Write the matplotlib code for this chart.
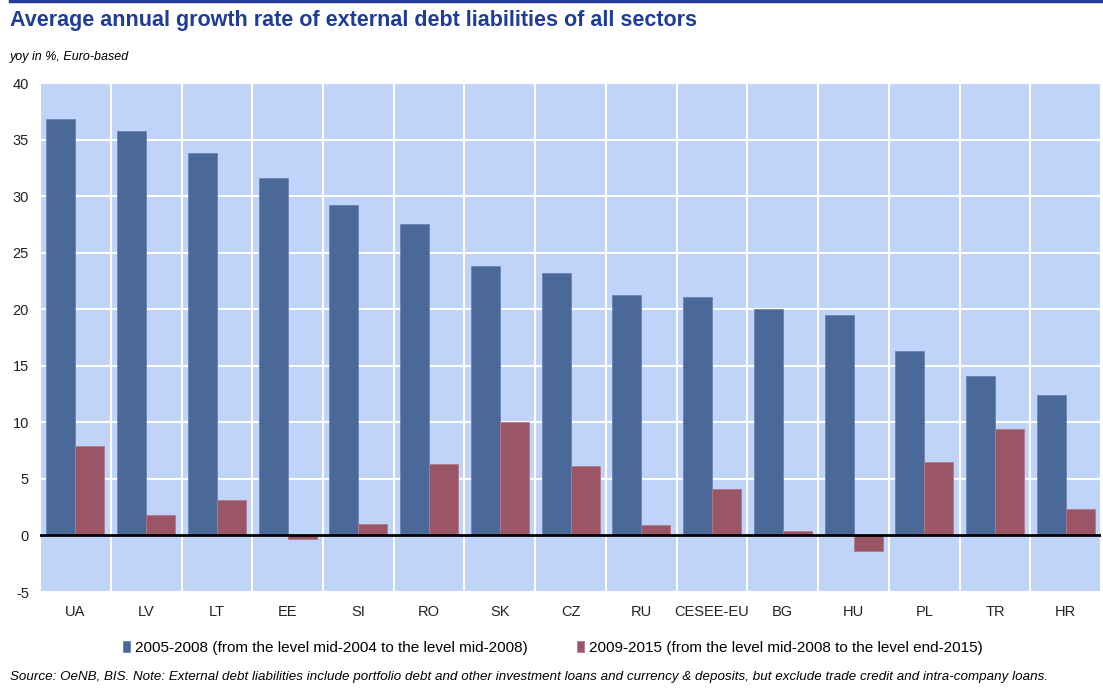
import matplotlib.pyplot as plt
import numpy as np
from matplotlib.lines import Line2D

plt.rcParams['font.family'] = ['Liberation Sans', 'DejaVu Sans']
plt.rcParams['axes.unicode_minus'] = False

countries = ['UA', 'LV', 'LT', 'EE', 'SI', 'RO', 'SK', 'CZ', 'RU',
             'CESEE-EU', 'BG', 'HU', 'PL', 'TR', 'HR']
growth_2005_2008 = [36.8, 35.8, 33.8, 31.6, 29.2, 27.5, 23.8, 23.2, 21.3,
                    21.1, 20.0, 19.5, 16.3, 14.1, 12.4]
growth_2009_2015 = [7.9, 1.8, 3.1, -0.3, 1.0, 6.3, 10.0, 6.1, 0.9,
                    4.1, 0.4, -1.4, 6.5, 9.4, 2.3]
series_labels = ['2005-2008 (from the level mid-2004 to the level mid-2008)',
                 '2009-2015 (from the level mid-2008 to the level end-2015)']

blue = '#4A6898'
red = '#9A5566'
title_col = '#1F3C96'

fig = plt.figure(figsize=(11.03, 6.92), dpi=100)
ax = fig.add_axes([0.0363, 0.1445, 0.962, 0.7355])
ax.set_facecolor('#C0D3F8')

x = np.arange(len(countries))
w = 0.41
b1 = ax.bar(x - w / 2, growth_2005_2008, w, color=blue, edgecolor='#6A84B0',
            linewidth=0.6, label=series_labels[0], zorder=3)
b2 = ax.bar(x + w / 2, growth_2009_2015, w, color=red, edgecolor='#B07A88',
            linewidth=0.6, label=series_labels[1], zorder=3)

ax.set_xlim(-0.5, len(countries) - 0.5)
ax.set_ylim(-5, 40)
ax.set_yticks(range(-5, 41, 5))
ax.set_xticks(x)
ax.set_xticklabels(countries)
ax.set_xticks(np.arange(-0.5, len(countries)), minor=True)
ax.grid(True, which='major', axis='y', color='white', linewidth=1.5, zorder=1)
ax.grid(True, which='minor', axis='x', color='white', linewidth=1.5, zorder=1)
ax.axhline(0, color='black', linewidth=2, zorder=4)
ax.tick_params(axis='both', which='both', length=0, labelsize=10.5, colors='#222222')
ax.tick_params(axis='x', pad=9)
ax.tick_params(axis='y', pad=8)
for s in ax.spines.values():
    s.set_visible(False)

# header
fig.add_artist(Line2D([0.009, 1.0], [0.9985, 0.9985], color=title_col, linewidth=2.5))
fig.text(0.009, 0.970, 'Average annual growth rate of external debt liabilities of all sectors',
         fontsize=15.5, fontweight='bold', color=title_col, va='center')
fig.text(0.009, 0.918, 'yoy in %, Euro-based', fontsize=9, style='italic', va='center')

fig.legend(handles=[b1, b2], labels=series_labels, loc='center', ncol=2,
           bbox_to_anchor=(0.501, 0.064), frameon=False, fontsize=11,
           handlelength=0.5, handleheight=0.7, handletextpad=0.3, columnspacing=3.2)

fig.text(0.009, 0.022, 'Source: OeNB, BIS. Note: External debt liabilities include portfolio debt and other '
         'investment loans and currency & deposits, but exclude trade credit and intra-company loans.',
         fontsize=9.6, style='italic', va='center')

fig.savefig('out.png', dpi=100)
